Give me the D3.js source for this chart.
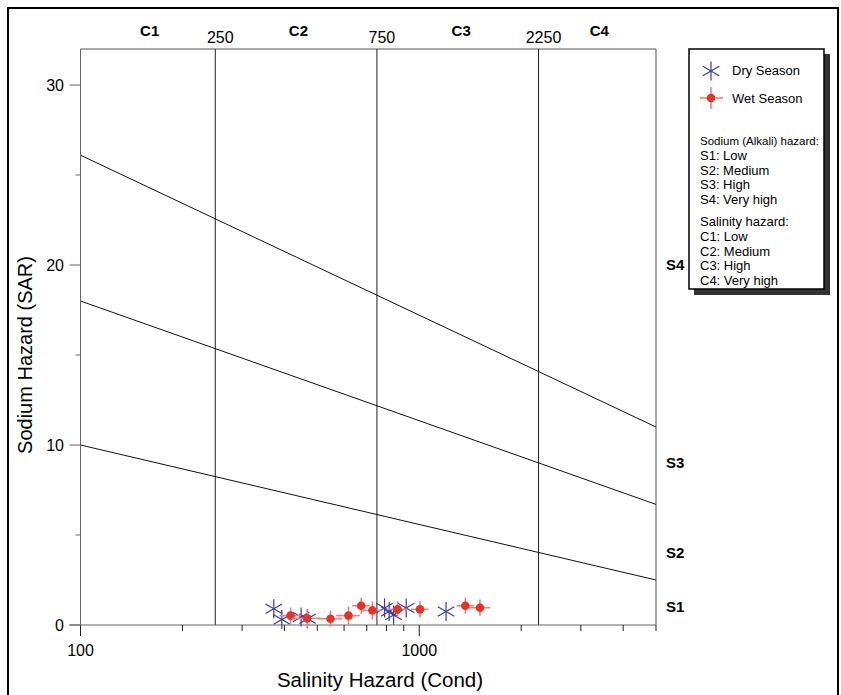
<!DOCTYPE html>
<html><head><meta charset="utf-8">
<script src="https://cdn.jsdelivr.net/npm/d3@7"></script>
<style>body{margin:0;background:#fff;}svg{display:block;font-family:"Liberation Sans",Arial,sans-serif;}</style>
</head><body>
<svg id="c" width="841" height="695"></svg>
<script>
// ---- data ----
const dryEC  = [372, 393, 448, 468, 790, 815, 840, 915, 1200];
const drySAR = [0.9, 0.3, 0.45, 0.35, 0.95, 0.75, 0.55, 0.95, 0.75];
const wetEC  = [417, 467, 547, 618, 674, 727, 863, 1005, 1368, 1511];
const wetSAR = [0.52, 0.37, 0.35, 0.52, 1.07, 0.81, 0.87, 0.87, 1.07, 0.96];
const wetECerr  = [30, 45, 45, 50, 40, 50, 60, 60, 80, 110];
const wetSARerr = [0.45, 0.5, 0.45, 0.5, 0.45, 0.5, 0.45, 0.45, 0.45, 0.45];
const boundaryEC = [250, 750, 2250];
const classC = ["C1", "C2", "C3", "C4"];
const classCpos = [160, 440, 1330, 3400];
const lineEC = [100, 5000];
const sLines = [[10, 2.5], [18, 6.7], [26.1, 11]];
const classS = ["S1", "S2", "S3", "S4"];
const classSpos = [1, 4, 9, 20];
const xMajor = [100, 1000];
const xMinor = [200,300,400,500,600,700,800,900,2000,3000,4000,5000];
const yMajor = [0, 10, 20, 30];
const yMinor = [5, 15, 25];
const legendSeries = ["Dry Season", "Wet Season"];
const legendText1 = ["Sodium (Alkali) hazard:"];
const legendS = ["S1: Low", "S2: Medium", "S3: High", "S4: Very high"];
const legendText2 = ["Salinity hazard:"];
const legendC = ["C1: Low", "C2: Medium", "C3: High", "C4: Very high"];

const svg = d3.select("#c");
const L = 80.5, R = 656, T = 49, B = 625;
const x = d3.scaleLog().domain([100, 5000]).range([L, R]);
const y = d3.scaleLinear().domain([0, 32]).range([B, T]);
const blue = "#3c3c9c", red = "#e2352a", redLight = "#f0807a";

// outer frame
svg.append("rect").attr("x", 8).attr("y", 8).attr("width", 830).attr("height", 700)
  .attr("fill", "none").attr("stroke", "#000").attr("stroke-width", 2);

// plot frame top & right
svg.append("line").attr("x1", L).attr("x2", R).attr("y1", T).attr("y2", T).attr("stroke", "#555");
svg.append("line").attr("x1", R).attr("x2", R).attr("y1", T).attr("y2", B).attr("stroke", "#555");

// vertical boundaries
svg.selectAll(".vb").data(boundaryEC).enter().append("line")
  .attr("x1", d => x(d)).attr("x2", d => x(d)).attr("y1", T).attr("y2", B)
  .attr("stroke", "#222").attr("stroke-width", 1);
svg.selectAll(".vbl").data(boundaryEC).enter().append("text")
  .attr("x", d => x(d) + 5).attr("y", 43).attr("text-anchor", "middle")
  .attr("font-size", 16).text(d => d);
svg.selectAll(".cl").data(classC).enter().append("text")
  .attr("x", (d, i) => x(classCpos[i])).attr("y", 36).attr("text-anchor", "middle")
  .attr("font-size", 15).attr("font-weight", "bold").text(d => d);

// S lines
sLines.forEach(s => {
  svg.append("line").attr("x1", x(lineEC[0])).attr("y1", y(s[0]))
    .attr("x2", x(lineEC[1])).attr("y2", y(s[1])).attr("stroke", "#111").attr("stroke-width", 1);
});
svg.selectAll(".sl").data(classS).enter().append("text")
  .attr("x", 666).attr("y", (d, i) => y(classSpos[i]) + 5)
  .attr("font-size", 15).attr("font-weight", "bold").text(d => d);

// axes
const axc = "#666";
svg.append("line").attr("x1", L - 11).attr("x2", R).attr("y1", B).attr("y2", B).attr("stroke", axc);
svg.append("line").attr("x1", L).attr("x2", L).attr("y1", T).attr("y2", B + 10).attr("stroke", axc);
svg.selectAll(".xmj").data(xMajor).enter().append("line")
  .attr("x1", d => x(d)).attr("x2", d => x(d)).attr("y1", B).attr("y2", B + 11).attr("stroke", "#222");
svg.selectAll(".xmn").data(xMinor).enter().append("line")
  .attr("x1", d => x(d)).attr("x2", d => x(d)).attr("y1", B).attr("y2", B + 6).attr("stroke", "#222");
svg.selectAll(".xl").data(xMajor).enter().append("text")
  .attr("x", d => x(d)).attr("y", 656).attr("text-anchor", "middle").attr("font-size", 16).text(d => d);
svg.selectAll(".ymj").data(yMajor).enter().append("line")
  .attr("x1", L - 11).attr("x2", L).attr("y1", d => y(d)).attr("y2", d => y(d)).attr("stroke", axc);
svg.selectAll(".ymn").data(yMinor).enter().append("line")
  .attr("x1", L - 5).attr("x2", L).attr("y1", d => y(d)).attr("y2", d => y(d)).attr("stroke", axc);
svg.selectAll(".yl").data(yMajor).enter().append("text")
  .attr("x", 64).attr("y", d => y(d) + 6).attr("text-anchor", "end").attr("font-size", 16).text(d => d);

svg.append("text").attr("x", 380).attr("y", 687).attr("text-anchor", "middle")
  .attr("font-size", 20.5).text("Salinity Hazard (Cond)");
svg.append("text").attr("transform", "translate(32,355) rotate(-90)").attr("text-anchor", "middle")
  .attr("font-size", 20).text("Sodium Hazard (SAR)");

// symbols
function asterisk(g, cx, cy, r) {
  const angs = [90, 30, 150];
  angs.forEach(a => {
    const rad = a * Math.PI / 180;
    g.append("line").attr("x1", cx - r * Math.cos(rad)).attr("y1", cy - r * Math.sin(rad))
      .attr("x2", cx + r * Math.cos(rad)).attr("y2", cy + r * Math.sin(rad))
      .attr("stroke", blue).attr("stroke-width", 1.2);
  });
}
function wetMark(g, cx, cy, x0, x1, y0, y1) {
  g.append("line").attr("x1", x0).attr("x2", x1).attr("y1", cy).attr("y2", cy)
    .attr("stroke", redLight).attr("stroke-width", 1.6);
  g.append("line").attr("x1", cx).attr("x2", cx).attr("y1", y0).attr("y2", y1)
    .attr("stroke", redLight).attr("stroke-width", 1.6);
  g.append("circle").attr("cx", cx).attr("cy", cy).attr("r", 4.3).attr("fill", red);
}
const gd = svg.append("g");
dryEC.forEach((e, i) => asterisk(gd, x(e), y(drySAR[i]), 9.5));
const gw = svg.append("g");
wetEC.forEach((e, i) => wetMark(gw, x(e), y(wetSAR[i]),
  x(e - wetECerr[i]), x(e + wetECerr[i]), y(wetSAR[i] + wetSARerr[i]), y(wetSAR[i] - wetSARerr[i])));

// legend
const lg = svg.append("g");
lg.append("rect").attr("x", 694).attr("y", 54).attr("width", 136).attr("height", 241).attr("fill", "#333");
lg.append("rect").attr("x", 689).attr("y", 49).attr("width", 135).attr("height", 240)
  .attr("fill", "#fff").attr("stroke", "#000").attr("stroke-width", 1.5);
asterisk(lg, 711, 71, 9.5);
wetMark(lg, 711, 98, 700, 723, 87, 109);
lg.selectAll(".ls").data(legendSeries).enter().append("text")
  .attr("x", 732).attr("y", (d, i) => 75 + i * 28).attr("font-size", 13).text(d => d);
lg.selectAll(".lt1").data(legendText1).enter().append("text")
  .attr("x", 700).attr("y", 145).attr("font-size", 11.5).text(d => d);
lg.selectAll(".lS").data(legendS).enter().append("text")
  .attr("x", 700).attr("y", (d, i) => 160 + i * 14.6).attr("font-size", 13).text(d => d);
lg.selectAll(".lt2").data(legendText2).enter().append("text")
  .attr("x", 700).attr("y", 226).attr("font-size", 13).text(d => d);
lg.selectAll(".lC").data(legendC).enter().append("text")
  .attr("x", 700).attr("y", (d, i) => 241 + i * 14.6).attr("font-size", 13).text(d => d);
</script>
</body></html>
